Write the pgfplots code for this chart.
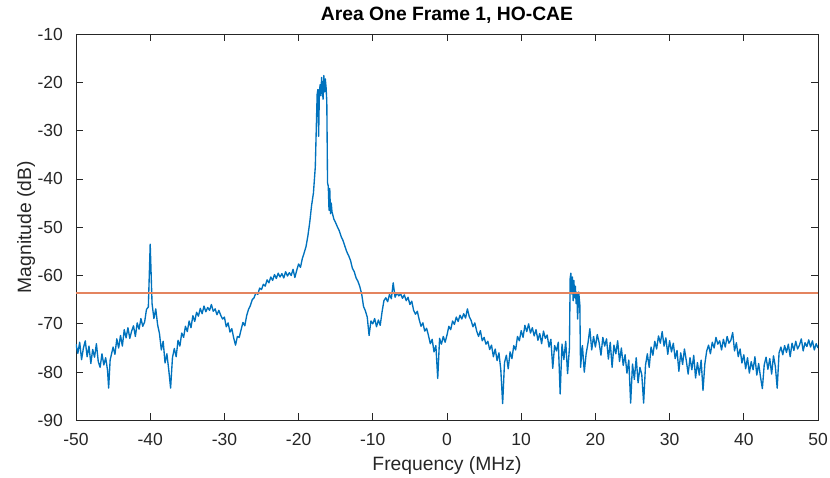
\documentclass[border=0pt]{standalone}
\usepackage{fontspec}
\setmainfont{Liberation Sans}
\usepackage{pgfplots}
\pgfplotsset{compat=1.18}
\definecolor{mblue}{RGB}{0,114,189}
\definecolor{thrcol}{RGB}{228,132,95}
\definecolor{axgray}{RGB}{38,38,38}
\begin{document}
\begin{tikzpicture}
\useasboundingbox (-76pt,-57.5pt) rectangle (754pt,420.5pt);
\begin{axis}[
  scale only axis, width=742pt, height=386.5pt,
  at={(0pt,0pt)}, anchor=south west,
  xmin=-50, xmax=50, ymin=-90, ymax=-10,
  xtick={-50,-40,-30,-20,-10,0,10,20,30,40,50},
  xticklabels={-50,-40,-30,-20,-10,0,10,20,30,40,50},
  ytick={-90,-80,-70,-60,-50,-40,-30,-20,-10},
  yticklabels={-90,-80,-70,-60,-50,-40,-30,-20,-10},
  tick align=inside, tick pos=both, major tick length=7.5pt,
  axis line style={axgray, line width=0.8pt},
  every tick/.style={axgray, line width=0.8pt},
  tick label style={font=\fontsize{17.5}{20}\selectfont, text=axgray, inner sep=0pt},
  xticklabel style={anchor=north, yshift=-12.5pt},
  yticklabel style={anchor=east, xshift=-13pt},
  title={Area One Frame 1, HO-CAE},
  title style={font=\bfseries\fontsize{19.3}{22}\selectfont, anchor=base, at={(axis description cs:0.5,1.0189)}, inner sep=0pt},
  xlabel={Frequency (MHz)},
  xlabel style={font=\fontsize{19.3}{22}\selectfont, text=axgray, anchor=base, at={(axis description cs:0.5,-0.1281)}, inner sep=0pt},
  ylabel={Magnitude (dB)},
  ylabel style={font=\fontsize{19.3}{22}\selectfont, text=axgray, anchor=base, at={(axis description cs:-0.0606,0.5)}, inner sep=0pt},
  clip=true,
]
\addplot[color=mblue, line width=1.35pt, line join=round, mark=none] table {
x y
-50 -74.2
-49.75 -76.1
-49.5 -73.8
-49.25 -77.4
-49 -75.0
-48.75 -73.5
-48.5 -76.8
-48.25 -74.6
-48 -78.2
-47.75 -75.3
-47.5 -76.9
-47.25 -74.1
-47 -77.8
-46.75 -79.0
-46.5 -76.2
-46.25 -78.5
-46 -77.0
-45.75 -79.6
-45.6 -83.3
-45.4 -77.5
-45 -74.8
-44.75 -76.3
-44.5 -73.1
-44.25 -75.0
-44 -72.4
-43.75 -74.6
-43.5 -71.2
-43.25 -72.9
-43 -70.8
-42.75 -73.0
-42.5 -71.5
-42.25 -70.4
-42 -72.6
-41.75 -69.8
-41.5 -71.1
-41.25 -68.9
-41 -70.5
-40.75 -69.6
-40.5 -67.0
-40.25 -66.5
-40 -53.5
-39.75 -65.8
-39.5 -68.9
-39.25 -66.9
-39 -70.2
-38.75 -72.0
-38.5 -75.4
-38.25 -73.6
-38 -78.1
-37.75 -76.2
-37.5 -79.5
-37.25 -83.3
-37 -77.0
-36.75 -75.1
-36.5 -76.8
-36.25 -73.4
-36 -74.6
-35.75 -71.9
-35.5 -72.8
-35.25 -70.5
-35 -71.6
-34.75 -69.4
-34.5 -70.8
-34.25 -68.3
-34 -69.5
-33.75 -67.6
-33.5 -68.4
-33.25 -66.8
-33 -67.9
-32.75 -66.3
-32.5 -67.5
-32.25 -66.6
-32 -67.2
-31.75 -66.0
-31.5 -67.4
-31.25 -66.9
-31 -68.1
-30.75 -67.2
-30.5 -68.2
-30.25 -69.0
-30 -68.6
-29.75 -70.6
-29.5 -69.8
-29.25 -71.7
-29 -71.0
-28.75 -72.9
-28.5 -74.4
-28.25 -72.6
-28 -72.8
-27.75 -71.2
-27.5 -69.7
-27.25 -70.4
-27 -68.3
-26.75 -67.0
-26.5 -66.2
-26.25 -65.0
-26 -64.6
-25.75 -63.5
-25.5 -63.9
-25.25 -62.6
-25 -62.9
-24.75 -61.8
-24.5 -62.2
-24.25 -60.9
-24 -61.5
-23.75 -60.3
-23.5 -61.0
-23.25 -59.8
-23 -60.6
-22.75 -59.5
-22.5 -60.3
-22.25 -59.6
-22 -60.5
-21.75 -59.2
-21.5 -60.1
-21.25 -59.4
-21 -60.0
-20.75 -58.7
-20.5 -60.4
-20.25 -58.9
-20 -57.6
-19.75 -58.3
-19.5 -56.5
-19.25 -55.3
-19 -54.0
-18.75 -51.8
-18.5 -49.0
-18.25 -45.5
-18 -42.9
-17.75 -37.5
-17.625 -30.0
-17.5 -22.5
-17.4 -21.5
-17.3 -31.2
-17.2 -22.0
-17.1 -20.5
-17.0 -22.8
-16.9 -19.0
-16.8 -21.5
-16.7 -23.5
-16.6 -18.6
-16.5 -22.0
-16.4 -19.3
-16.3 -21.0
-16.2 -24.0
-16.1 -40.8
-16.0 -41.5
-15.9 -46.5
-15.8 -42.0
-15.7 -47.2
-15.6 -45.0
-15.5 -46.8
-15.25 -48.3
-15 -49.1
-14.75 -50.0
-14.5 -50.8
-14.25 -52.0
-14 -52.8
-13.75 -54.0
-13.5 -55.1
-13.25 -55.9
-13 -56.9
-12.75 -58.5
-12.5 -59.2
-12.25 -60.5
-12 -61.2
-11.75 -62.3
-11.5 -63.8
-11.25 -66.4
-11 -67.3
-10.75 -68.6
-10.5 -72.4
-10.25 -69.4
-10 -70.0
-9.75 -68.9
-9.5 -70.6
-9.25 -69.2
-9 -70.3
-8.75 -67.5
-8.5 -65.2
-8.25 -64.6
-8 -65.4
-7.75 -63.9
-7.5 -64.8
-7.25 -61.5
-7 -64.5
-6.75 -63.6
-6.5 -64.2
-6.25 -63.8
-6 -64.7
-5.75 -64.0
-5.5 -65.2
-5.25 -64.5
-5 -66.0
-4.75 -65.3
-4.5 -67.2
-4.25 -68.0
-4 -67.4
-3.75 -69.1
-3.5 -70.5
-3.25 -69.8
-3 -71.5
-2.75 -70.9
-2.5 -72.4
-2.25 -74.1
-2 -73.2
-1.75 -75.8
-1.5 -74.5
-1.25 -81.3
-1 -73.0
-0.75 -74.2
-0.5 -72.6
-0.25 -73.8
0 -72.3
0.25 -70.5
0.5 -71.2
0.75 -69.4
1 -70.1
1.25 -68.6
1.5 -69.5
1.75 -68.2
2 -69.0
2.25 -67.9
2.5 -68.8
2.75 -66.9
3 -68.5
3.25 -69.3
3.5 -70.6
3.75 -69.8
4 -71.5
4.25 -72.6
4.5 -71.4
4.75 -73.5
5 -72.8
5.25 -74.2
5.5 -73.6
5.75 -75.3
6 -74.4
6.25 -76.8
6.5 -75.2
6.75 -77.6
7 -76.0
7.25 -79.5
7.5 -86.5
7.75 -78.0
8 -76.5
8.25 -79.3
8.5 -75.8
8.75 -77.2
9 -74.5
9.25 -75.4
9.5 -72.6
9.75 -73.5
10 -71.4
10.25 -72.8
10.5 -70.3
10.75 -71.6
11 -70.0
11.25 -71.9
11.5 -70.8
11.75 -72.5
12 -71.2
12.25 -73.4
12.5 -72.0
12.75 -74.1
13 -71.5
13.25 -73.0
13.5 -72.3
13.75 -74.8
14 -73.2
14.25 -79.2
14.5 -74.5
14.75 -75.6
15 -73.8
15.25 -84.5
15.5 -74.2
15.75 -77.4
16 -73.6
16.25 -80.3
16.5 -75.0
16.6 -60.5
16.7 -59.5
16.8 -63.8
16.9 -60.3
17.0 -65.2
17.1 -61.0
17.2 -64.6
17.3 -62.2
17.4 -65.8
17.5 -63.5
17.6 -69.0
17.75 -63.4
17.9 -66.0
18.0 -79.0
18.25 -74.5
18.5 -80.0
18.75 -76.2
19 -74.0
19.25 -71.0
19.5 -75.4
19.75 -72.6
20 -74.8
20.25 -72.2
20.5 -73.9
20.75 -76.5
21 -72.8
21.25 -74.6
21.5 -73.1
21.75 -77.3
22 -73.8
22.25 -79.0
22.5 -74.4
22.75 -76.2
23 -73.5
23.25 -77.8
23.5 -75.0
23.75 -78.6
24 -76.4
24.25 -80.2
24.5 -77.5
24.75 -86.4
25 -78.3
25.25 -81.5
25.5 -77.0
25.75 -82.2
26 -79.0
26.25 -80.5
26.5 -86.4
26.75 -78.6
27 -76.2
27.25 -79.0
27.5 -74.8
27.75 -76.5
28 -73.6
28.25 -75.2
28.5 -72.5
28.75 -74.0
29 -71.6
29.25 -74.6
29.5 -72.9
29.75 -76.3
30 -73.5
30.25 -75.8
30.5 -74.0
30.75 -77.2
31 -75.5
31.25 -79.8
31.5 -76.0
31.75 -78.4
32 -75.2
32.25 -77.6
32.5 -80.4
32.75 -77.0
33 -79.5
33.25 -76.5
33.5 -81.2
33.75 -78.0
34 -80.6
34.25 -77.5
34.5 -83.8
34.75 -78.3
35 -75.6
35.25 -74.4
35.5 -76.2
35.75 -73.8
36 -75.0
36.25 -72.8
36.5 -74.2
36.75 -73.5
37 -75.4
37.25 -73.2
37.5 -74.8
37.75 -72.6
38 -74.0
38.25 -73.4
38.5 -71.8
38.75 -75.6
39 -73.9
39.25 -76.8
39.5 -75.2
39.75 -78.1
40 -76.4
40.25 -79.3
40.5 -77.0
40.75 -80.2
41 -77.8
41.25 -79.5
41.5 -76.8
41.75 -80.6
42 -78.2
42.25 -81.0
42.5 -83.4
42.75 -78.5
43 -76.9
43.25 -79.4
43.5 -77.2
43.75 -80.4
44 -76.6
44.25 -78.8
44.5 -83.3
44.75 -76.0
45 -74.8
45.25 -76.4
45.5 -74.5
45.75 -75.9
46 -74.2
46.25 -76.8
46.5 -74.0
46.75 -75.5
47 -73.6
47.25 -75.2
47.5 -74.4
47.75 -73.1
48 -75.6
48.25 -73.9
48.5 -74.7
48.75 -73.3
49 -74.8
49.25 -73.5
49.5 -75.4
49.75 -74.1
50 -75.0
};
\addplot[color=thrcol, line width=1.6pt, mark=none] table {
x y
-50 -63.65
50 -63.65
};
\end{axis}
\end{tikzpicture}
\end{document}
